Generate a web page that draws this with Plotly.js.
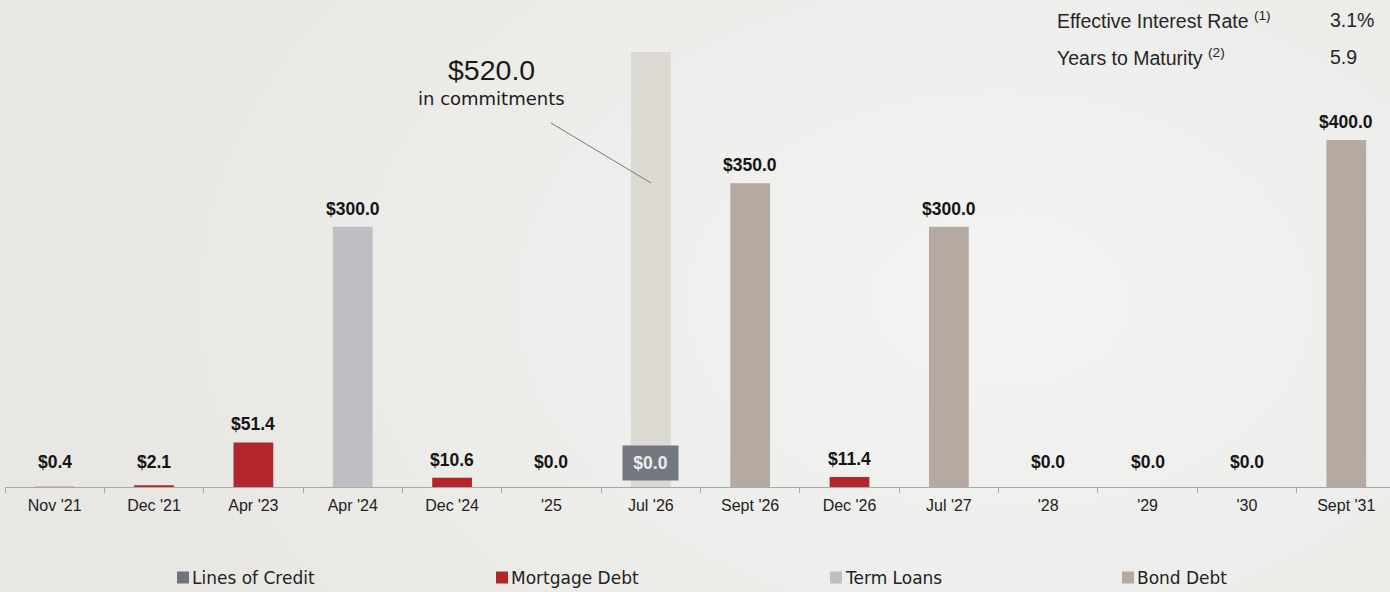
<!DOCTYPE html>
<html>
<head>
<meta charset="utf-8">
<script src="https://cdn.plot.ly/plotly-3.0.1.min.js"></script>
<style>
  html, body { margin:0; padding:0; }
  body { width:1390px; height:592px; overflow:hidden;
    background: radial-gradient(ellipse 900px 600px at 1000px 300px, #f3f3f2 0%, #eeeeec 45%, #e8e7e3 100%); }
  #chart { width:1390px; height:592px; }
</style>
</head>
<body>
<div id="chart"></div>
<script>
// ---- data ----
const categories = ["Nov '21","Dec '21","Apr '23","Apr '24","Dec '24","'25","Jul '26","Sept '26","Dec '26","Jul '27","'28","'29","'30","Sept '31"];
const linesOfCredit = [null,null,null,null,null,null,0,null,null,null,null,null,null,null];
const mortgageDebt  = [0.4,2.1,51.4,null,10.6,null,null,null,11.4,null,null,null,null,null];
const termLoans     = [null,null,null,300,null,null,null,null,null,null,null,null,null,null];
const bondDebt      = [null,null,null,null,null,null,null,350,null,300,null,null,null,400];
const commitments   = [null,null,null,null,null,null,520,null,null,null,null,null,null,null];
const commitmentText = "in commitments";
const seriesNames = ["Lines of Credit","Mortgage Debt","Term Loans","Bond Debt"];
const statLabels = ["Effective Interest Rate <sup>(1)</sup>","Years to Maturity <sup>(2)</sup>"];
const statValues = ["3.1%","5.9"];

// ---- style ----
const W = 1390, H = 592;
const M = {l:5, r:0, t:52, b:105};
const YMAX = 501.4;
const colors = {
  loc: "#6f747c", mort: "#b2262a", term: "#bdbfc3", bond: "#b5a9a1", commit: "#dcd8d2"
};
const plotW = W - M.l - M.r, plotH = H - M.t - M.b;
const pxPerUnit = plotH / YMAX;
const baseY = M.t + plotH;
const px2x = p => (p - M.l) / plotW;
const px2y = p => (baseY - p) / plotH;

function bar(name, y, color) {
  return {type:"bar", name, x:categories, y, width:0.4, showlegend:false,
    marker:{color, opacity:1, line:{width:0}}, hoverinfo:"skip"};
}
const traces = [
  bar("Commitments", commitments, colors.commit),
  bar(seriesNames[0], linesOfCredit, colors.loc),
  bar(seriesNames[1], mortgageDebt, colors.mort),
  bar(seriesNames[2], termLoans, colors.term),
  bar(seriesNames[3], bondDebt, colors.bond)
];

const annotations = [];
const shapes = [];
const labelFamily = "Liberation Sans, Arial, sans-serif";
categories.forEach((c, i) => {
  const vals = [linesOfCredit[i], mortgageDebt[i], termLoans[i], bondDebt[i]];
  const total = vals.reduce((s, v) => s + (v == null ? 0 : v), 0);
  const txt = "<b>$" + total.toFixed(1) + "</b>";
  if (linesOfCredit[i] != null) {
    annotations.push({x:c, y:total, xref:"x", yref:"y", text:txt, showarrow:false,
      yanchor:"middle", yshift:24, bgcolor:"#737880", width:53, height:32,
      font:{family:labelFamily, size:17.5, color:"#ececec"}});
  } else {
    annotations.push({x:c, y:total, xref:"x", yref:"y", text:txt, showarrow:false,
      yanchor:"middle", yshift:Math.max(18, 25 - total*pxPerUnit),
      font:{family:labelFamily, size:17.5, color:"#151515"}});
  }
});

// commitments callout
const ci = commitments.findIndex(v => v != null);
annotations.push({xref:"paper", yref:"paper", x:px2x(491), y:px2y(70), text:"$" + commitments[ci].toFixed(1),
  showarrow:false, xanchor:"center", yanchor:"middle",
  font:{family:labelFamily, size:28.5, color:"#1a1a1a"}});
annotations.push({xref:"paper", yref:"paper", x:px2x(491), y:px2y(99), text:commitmentText,
  showarrow:false, xanchor:"center", yanchor:"middle",
  font:{family:"DejaVu Sans, sans-serif", size:18, color:"#1a1a1a"}});
shapes.push({type:"line", xref:"paper", yref:"paper",
  x0:px2x(551), y0:px2y(123), x1:px2x(651), y1:px2y(183),
  line:{color:"#7a7a7a", width:1}});

// stats top-right
const statRows = [20, 57];
statLabels.forEach((t, i) => {
  annotations.push({xref:"paper", yref:"paper", x:px2x(1055), y:px2y(statRows[i]), text:t,
    showarrow:false, xanchor:"left", yanchor:"middle",
    font:{family:labelFamily, size:19.5, color:"#262626"}});
  annotations.push({xref:"paper", yref:"paper", x:px2x(1328), y:px2y(statRows[i]), text:statValues[i],
    showarrow:false, xanchor:"left", yanchor:"middle",
    font:{family:labelFamily, size:19.5, color:"#262626"}});
});

// legend
const legendColors = [colors.loc, colors.mort, colors.term, colors.bond];
const legendX = [177, 496, 830, 1122];
seriesNames.forEach((n, i) => {
  shapes.push({type:"rect", xref:"paper", yref:"paper",
    x0:px2x(legendX[i]), x1:px2x(legendX[i]+12), y0:px2y(583.5), y1:px2y(571.5),
    fillcolor:legendColors[i], line:{width:0}});
  annotations.push({xref:"paper", yref:"paper", x:px2x(legendX[i]+13), y:px2y(577.5), text:n,
    showarrow:false, xanchor:"left", yanchor:"middle",
    font:{family:"DejaVu Sans, sans-serif", size:17, color:"#222"}});
});

const layout = {
  width:W, height:H, margin:M,
  paper_bgcolor:"rgba(0,0,0,0)", plot_bgcolor:"rgba(0,0,0,0)",
  barmode:"overlay", showlegend:false, hovermode:false,
  xaxis:{type:"category", range:[-0.5, 13.44], showgrid:false, zeroline:false,
    showline:true, linecolor:"#a8a8a8", linewidth:1,
    ticks:"outside", tickson:"boundaries", ticklen:5, tickcolor:"#a8a8a8",
    tickfont:{family:labelFamily, size:16, color:"#222"},
    ticklabelstandoff:4, fixedrange:true},
  yaxis:{range:[0, YMAX], visible:false, showgrid:false, zeroline:false, fixedrange:true},
  annotations, shapes
};
Plotly.newPlot("chart", traces, layout, {staticPlot:true, displayModeBar:false});
</script>
</body>
</html>
